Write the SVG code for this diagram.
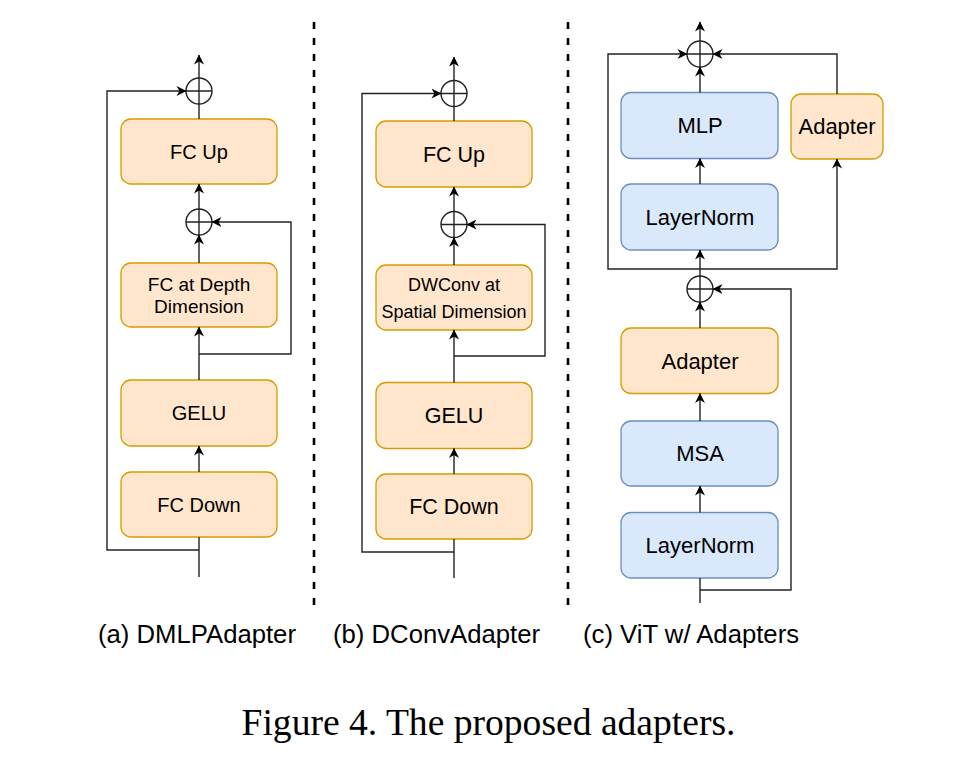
<svg xmlns="http://www.w3.org/2000/svg" width="967" height="762" viewBox="0 0 967 762">
<style>
.or{fill:#ffe6cc;stroke:#d79b00;stroke-width:1.3}
.bl{fill:#dae8fc;stroke:#6c8ebf;stroke-width:1.3}
.ln{fill:none;stroke:#222;stroke-width:1.4}
.sum{fill:none;stroke:#222;stroke-width:1.4}
.t{font-family:"Liberation Sans",Arial,sans-serif;fill:#000;text-anchor:middle}
.cap{font-family:"Liberation Sans",Arial,sans-serif;font-size:25.7px;fill:#000}
.dash{stroke:#000;stroke-width:2.6;stroke-dasharray:7 9}
</style>
<defs>
<marker id="ar" viewBox="0 0 10 10" refX="9.5" refY="5" markerWidth="11" markerHeight="10" markerUnits="userSpaceOnUse" orient="auto">
<path d="M0,0 L10,5 L0,10 L3,5 z" fill="#000"/>
</marker>
<g id="plus">
<circle cx="0" cy="0" r="13" class="sum"/>
<path d="M-13,0 H13 M0,-13 V13" class="sum"/>
</g>
</defs>
<rect width="967" height="762" fill="#fff"/>

<g id="dividers">
<line x1="314" y1="22" x2="314" y2="608" class="dash"/>
<line x1="568" y1="22" x2="568" y2="608" class="dash"/>
</g>

<!-- Panel a -->
<g id="a-fcup"><rect x="121" y="119" width="156" height="65" rx="10" class="or"/><text x="199" y="158.7" class="t" font-size="20">FC Up</text></g>
<g id="a-fcdepth"><rect x="121" y="263" width="156" height="64" rx="10" class="or"/><text x="199" y="290.7" class="t" font-size="19">FC at Depth</text><text x="199" y="313.3" class="t" font-size="19">Dimension</text></g>
<g id="a-gelu"><rect x="121" y="380" width="156" height="66" rx="10" class="or"/><text x="199" y="420.2" class="t" font-size="20">GELU</text></g>
<g id="a-fcdown"><rect x="121" y="472" width="156" height="65" rx="10" class="or"/><text x="199" y="511.7" class="t" font-size="20">FC Down</text></g>
<g id="a-sum1"><use href="#plus" x="199" y="91"/></g>
<g id="a-sum2"><use href="#plus" x="199" y="222"/></g>

<!-- Panel b -->
<g id="b-fcup"><rect x="376" y="121" width="156" height="66" rx="10" class="or"/><text x="454" y="161.7" class="t" font-size="21.5">FC Up</text></g>
<g id="b-dwconv"><rect x="376" y="265" width="156" height="65" rx="10" class="or"/><text x="454" y="290.7" class="t" font-size="18">DWConv at</text><text x="454" y="317.7" class="t" font-size="18">Spatial Dimension</text></g>
<g id="b-gelu"><rect x="376" y="382.5" width="156" height="66" rx="10" class="or"/><text x="454" y="423.3" class="t" font-size="21.5">GELU</text></g>
<g id="b-fcdown"><rect x="376" y="474" width="156" height="65" rx="10" class="or"/><text x="454" y="514.3" class="t" font-size="21.5">FC Down</text></g>
<g id="b-sum1"><use href="#plus" x="454" y="93.5"/></g>
<g id="b-sum2"><use href="#plus" x="454" y="224.5"/></g>

<!-- Panel c -->
<g id="c-mlp"><rect x="621" y="92.5" width="157" height="66" rx="10" class="bl"/><text x="700" y="133.4" class="t" font-size="22">MLP</text></g>
<g id="c-adapter-r"><rect x="791" y="94" width="92" height="65" rx="10" class="or"/><text x="837" y="134.4" class="t" font-size="22">Adapter</text></g>
<g id="c-ln1"><rect x="621" y="184" width="157" height="66" rx="10" class="bl"/><text x="700" y="224.9" class="t" font-size="22">LayerNorm</text></g>
<g id="c-adapter"><rect x="621" y="328" width="157" height="65.5" rx="10" class="or"/><text x="700" y="368.7" class="t" font-size="22">Adapter</text></g>
<g id="c-msa"><rect x="621" y="421" width="157" height="65" rx="10" class="bl"/><text x="700" y="461.4" class="t" font-size="22">MSA</text></g>
<g id="c-ln2"><rect x="621" y="512.5" width="157" height="65.5" rx="10" class="bl"/><text x="700" y="553.2" class="t" font-size="22">LayerNorm</text></g>
<g id="c-sum1"><use href="#plus" x="700" y="54"/></g>
<g id="c-sum2"><use href="#plus" x="700" y="289"/></g>

<g id="connectors">
<!-- a -->
<path d="M199,78 V55" class="ln" marker-end="url(#ar)"/>
<path d="M199,119 V104" class="ln"/>
<path d="M199,209 V184" class="ln" marker-end="url(#ar)"/>
<path d="M199,263 V235" class="ln" marker-end="url(#ar)"/>
<path d="M199,380 V327" class="ln" marker-end="url(#ar)"/>
<path d="M199,354 H291 V222 H212" class="ln" marker-end="url(#ar)"/>
<path d="M199,472 V446" class="ln" marker-end="url(#ar)"/>
<path d="M199,577 V537" class="ln"/>
<path d="M199,550 H107 V91 H186" class="ln" marker-end="url(#ar)"/>
<!-- b -->
<path d="M454,80.5 V57" class="ln" marker-end="url(#ar)"/>
<path d="M454,121 V106.5" class="ln"/>
<path d="M454,211.5 V187" class="ln" marker-end="url(#ar)"/>
<path d="M454,265 V237.5" class="ln" marker-end="url(#ar)"/>
<path d="M454,382.5 V330" class="ln" marker-end="url(#ar)"/>
<path d="M454,356 H545 V224.5 H467" class="ln" marker-end="url(#ar)"/>
<path d="M454,474 V448.5" class="ln" marker-end="url(#ar)"/>
<path d="M454,578 V539" class="ln"/>
<path d="M454,552 H362 V93.5 H441" class="ln" marker-end="url(#ar)"/>
<!-- c -->
<path d="M700,41 V22" class="ln" marker-end="url(#ar)"/>
<path d="M700,92.5 V67" class="ln" marker-end="url(#ar)"/>
<path d="M700,184 V158.5" class="ln" marker-end="url(#ar)"/>
<path d="M700,276 V250" class="ln" marker-end="url(#ar)"/>
<path d="M700,269 H608 V54 H687" class="ln" marker-end="url(#ar)"/>
<path d="M700,269 H837 V159" class="ln" marker-end="url(#ar)"/>
<path d="M837,94 V54 H713" class="ln" marker-end="url(#ar)"/>
<path d="M700,328 V302" class="ln" marker-end="url(#ar)"/>
<path d="M700,421 V393.5" class="ln" marker-end="url(#ar)"/>
<path d="M700,512.5 V486" class="ln" marker-end="url(#ar)"/>
<path d="M700,603 V578" class="ln"/>
<path d="M700,590 H791 V289 H713" class="ln" marker-end="url(#ar)"/>
</g>

<g id="captions">
<text x="98" y="643" class="cap">(a) DMLPAdapter</text>
<text x="333" y="643" class="cap">(b) DConvAdapter</text>
<text x="583" y="643" class="cap">(c) ViT w/ Adapters</text>
<text x="241.5" y="735" font-family="'Liberation Serif','Times New Roman',serif" font-size="37.6" fill="#000">Figure 4. The proposed adapters.</text>
</g>
</svg>
